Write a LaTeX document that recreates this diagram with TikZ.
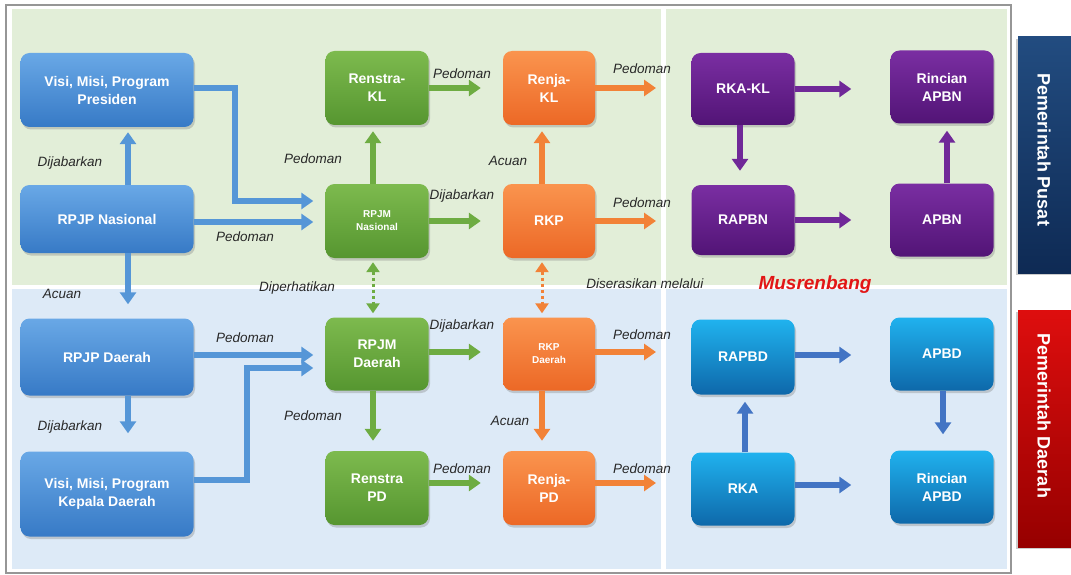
\documentclass[tikz,border=0pt]{standalone}
\usepackage{fontspec}
\setmainfont{Liberation Sans}
\usetikzlibrary{arrows.meta,shadows,shadings}
\definecolor{bgG}{RGB}{226,238,216}
\definecolor{bgB}{RGB}{221,234,247}
\definecolor{frameC}{RGB}{150,150,150}
\definecolor{nbT}{RGB}{105,168,230}
\definecolor{nbB}{RGB}{55,122,198}
\definecolor{ngT}{RGB}{125,186,78}
\definecolor{ngB}{RGB}{86,150,48}
\definecolor{noT}{RGB}{250,148,78}
\definecolor{noB}{RGB}{236,104,38}
\definecolor{npT}{RGB}{122,46,162}
\definecolor{npB}{RGB}{82,20,118}
\definecolor{ncT}{RGB}{32,178,238}
\definecolor{ncB}{RGB}{14,104,170}
\definecolor{abl}{RGB}{85,150,215}
\definecolor{agr}{RGB}{110,172,66}
\definecolor{aor}{RGB}{242,130,55}
\definecolor{apu}{RGB}{112,40,152}
\definecolor{abd}{RGB}{66,116,196}
\definecolor{lblC}{RGB}{40,40,40}
\definecolor{pusT}{RGB}{34,76,128}
\definecolor{pusB}{RGB}{14,42,84}
\definecolor{redT}{RGB}{222,14,14}
\definecolor{redB}{RGB}{150,0,0}
\definecolor{musC}{RGB}{226,22,22}
\tikzset{
  box/.style={rounded corners=9pt, minimum width=103pt, minimum height=74pt,
    text=white, font=\fontsize{14}{18}\selectfont\bfseries, align=center, inner sep=2pt,
    drop shadow={opacity=0.35, shadow xshift=1.5pt, shadow yshift=-2.5pt}},
  smalltxt/.style={font=\fontsize{10}{13}\selectfont\bfseries},
  bbox/.style={box, top color=nbT, bottom color=nbB, minimum width=173pt},
  gbox/.style={box, top color=ngT, bottom color=ngB},
  obox/.style={box, top color=noT, bottom color=noB, minimum width=92pt},
  pbox/.style={box, top color=npT, bottom color=npB},
  cbox/.style={box, top color=ncT, bottom color=ncB},
  arr/.style={line width=5.5pt, -{Triangle[width=16pt,length=12pt]}},
  darr/.style={line width=3pt, dash pattern=on 3pt off 3pt,
    {Triangle[width=13pt,length=10pt]}-{Triangle[width=13pt,length=10pt]},
    shorten <=4pt, shorten >=4pt},
  lbl/.style={font=\fontsize{13.5}{16}\selectfont\itshape, text=lblC, inner sep=1pt},
  side/.style={text=white, font=\fontsize{18}{20}\selectfont\bfseries, rotate=-90}
}
\begin{document}
\begin{tikzpicture}[x=1pt,y=-1pt]
\useasboundingbox (0,0) rectangle (1071,575);
% backgrounds
\fill[white] (0,0) rectangle (1071,575);
\draw[frameC, line width=1.5pt, fill=white] (6,5) rectangle (1011,573);
\fill[bgG] (12,9) rectangle (1007,285);
\fill[bgB] (12,289) rectangle (1007,569);
\fill[white] (661,9) rectangle (666,569);
% side bars
\shade[top color=pusT, bottom color=pusB, drop shadow={opacity=0.4, shadow xshift=-2pt, shadow yshift=-2pt}] (1018,37) rectangle (1076,273);
\shade[top color=redT, bottom color=redB, drop shadow={opacity=0.4, shadow xshift=-2pt, shadow yshift=-2pt}] (1018,310) rectangle (1076,547);
\node[side] (pusat) at (1044,150) {Pemerintah Pusat};
\node[side] (daerah) at (1044,416) {Pemerintah Daerah};
% nodes
\node[bbox, minimum height=74pt] (visip) at (107,90) {Visi, Misi, Program\\Presiden};
\node[bbox, minimum height=68pt] (rpjpn) at (107,219) {RPJP Nasional};
\node[bbox, minimum height=77pt] (rpjpd) at (107,357) {RPJP Daerah};
\node[bbox, minimum height=85pt] (visik) at (107,494) {Visi, Misi, Program\\Kepala Daerah};
\node[gbox] (renkl) at (377,88) {Renstra-\\KL};
\node[gbox, smalltxt] (rpjmn) at (377,221) {RPJM\\Nasional};
\node[gbox, minimum height=73pt] (rpjmd) at (377,354) {RPJM\\Daerah};
\node[gbox] (renpd) at (377,488) {Renstra\\PD};
\node[obox] (rjkl) at (549,88) {Renja-\\KL};
\node[obox] (rkp) at (549,221) {RKP};
\node[obox, smalltxt, minimum height=73pt] (rkpd) at (549,354) {RKP\\Daerah};
\node[obox] (rjpd) at (549,488) {Renja-\\PD};
\node[pbox, minimum height=72pt] (rkakl) at (743,89) {RKA-KL};
\node[pbox, minimum height=73pt] (rinapbn) at (942,87) {Rincian\\APBN};
\node[pbox, minimum height=70pt] (rapbn) at (743,220) {RAPBN};
\node[pbox, minimum height=73pt] (apbn) at (942,220) {APBN};
\node[cbox, minimum height=75pt] (rapbd) at (743,357) {RAPBD};
\node[cbox, minimum height=73pt] (apbd) at (942,354) {APBD};
\node[cbox, minimum height=73pt] (rka) at (743,489) {RKA};
\node[cbox, minimum height=73pt] (rinapbd) at (942,487) {Rincian\\APBD};
% free ends
\coordinate (o1) at (656,88);
\coordinate (o2) at (656,221);
\coordinate (o3) at (656,352);
\coordinate (o4) at (656,483);
% blue arrows
\draw[arr,abl,shorten >=12pt] (visip.east |- 0,88) -- (235,88) -- (235,201) -- (rpjmn.west |- 0,201);
\draw[arr,abl,shorten >=12pt] (rpjpn.east |- 0,222) -- (rpjmn.west |- 0,222);
\draw[arr,abl,shorten >=5pt] (rpjpn.north -| 128,0) -- (visip.south -| 128,0);
\draw[arr,abl,shorten >=14pt] (rpjpn.south -| 128,0) -- (rpjpd.north -| 128,0);
\draw[arr,abl,shorten >=18pt] (rpjpd.south -| 128,0) -- (visik.north -| 128,0);
\draw[arr,abl,shorten >=12pt] (rpjpd.east |- 0,355) -- (rpjmd.west |- 0,355);
\draw[arr,abl,shorten >=12pt] (visik.east |- 0,480) -- (247,480) -- (247,368) -- (rpjmd.west |- 0,368);
% green arrows
\draw[arr,agr,shorten >=22pt] (renkl.east |- 0,88) -- (rjkl.west |- 0,88);
\draw[arr,agr,shorten >=6pt] (rpjmn.north -| 373,0) -- (renkl.south -| 373,0);
\draw[arr,agr,shorten >=22pt] (rpjmn.east |- 0,221) -- (rkp.west |- 0,221);
\draw[arr,agr,shorten >=22pt] (rpjmd.east |- 0,352) -- (rkpd.west |- 0,352);
\draw[arr,agr,shorten >=10pt] (rpjmd.south -| 373,0) -- (renpd.north -| 373,0);
\draw[arr,agr,shorten >=22pt] (renpd.east |- 0,483) -- (rjpd.west |- 0,483);
\draw[darr,agr] (rpjmn.south -| 373,0) -- (rpjmd.north -| 373,0);
% orange arrows
\draw[arr,aor] (rjkl.east |- o1) -- (o1);
\draw[arr,aor,shorten >=6pt] (rkp.north -| 542,0) -- (rjkl.south -| 542,0);
\draw[arr,aor] (rkp.east |- o2) -- (o2);
\draw[darr,aor] (rkp.south -| 542,0) -- (rkpd.north -| 542,0);
\draw[arr,aor] (rkpd.east |- o3) -- (o3);
\draw[arr,aor,shorten >=10pt] (rkpd.south -| 542,0) -- (rjpd.north -| 542,0);
\draw[arr,aor] (rjpd.east |- o4) -- (o4);
% purple arrows
\draw[arr,apu,shorten >=39pt] (rkakl.east |- 0,89) -- (rinapbn.west |- 0,89);
\draw[arr,apu,shorten >=14pt] (rkakl.south -| 740,0) -- (rapbn.north -| 740,0);
\draw[arr,apu,shorten >=39pt] (rapbn.east |- 0,220) -- (apbn.west |- 0,220);
\draw[arr,apu,shorten >=7pt] (apbn.north -| 947,0) -- (rinapbn.south -| 947,0);
% lower right arrows
\draw[arr,abd,shorten >=39pt] (rapbd.east |- 0,355) -- (apbd.west |- 0,355);
\draw[arr,abd,shorten >=7pt] (rka.north -| 745,0) -- (rapbd.south -| 745,0);
\draw[arr,abd,shorten >=16pt] (apbd.south -| 943,0) -- (rinapbd.north -| 943,0);
\draw[arr,abd,shorten >=39pt] (rka.east |- 0,485) -- (rinapbd.west |- 0,485);
% labels
\node[lbl] (l1) at (70,163) {Dijabarkan};
\node[lbl] (l2) at (245,237) {Pedoman};
\node[lbl] (l3) at (313,159) {Pedoman};
\node[lbl] (l4) at (62,294) {Acuan};
\node[lbl] (l5) at (297,288) {Diperhatikan};
\node[lbl] (l6) at (245,338) {Pedoman};
\node[lbl] (l7) at (70,427) {Dijabarkan};
\node[lbl] (l8) at (313,416) {Pedoman};
\node[lbl] (l9) at (462,74) {Pedoman};
\node[lbl] (l10) at (462,196) {Dijabarkan};
\node[lbl] (l11) at (462,326) {Dijabarkan};
\node[lbl] (l12) at (462,469) {Pedoman};
\node[lbl] (l13) at (642,69) {Pedoman};
\node[lbl] (l14) at (508,161) {Acuan};
\node[lbl] (l15) at (642,203) {Pedoman};
\node[lbl] (l16) at (645,284) {Diserasikan melalui};
\node[lbl] (l17) at (642,335) {Pedoman};
\node[lbl] (l18) at (510,421) {Acuan};
\node[lbl] (l19) at (642,469) {Pedoman};
\node[font=\fontsize{19}{22}\selectfont\bfseries\itshape, text=musC] (mus) at (815,285) {Musrenbang};
\end{tikzpicture}
\end{document}
